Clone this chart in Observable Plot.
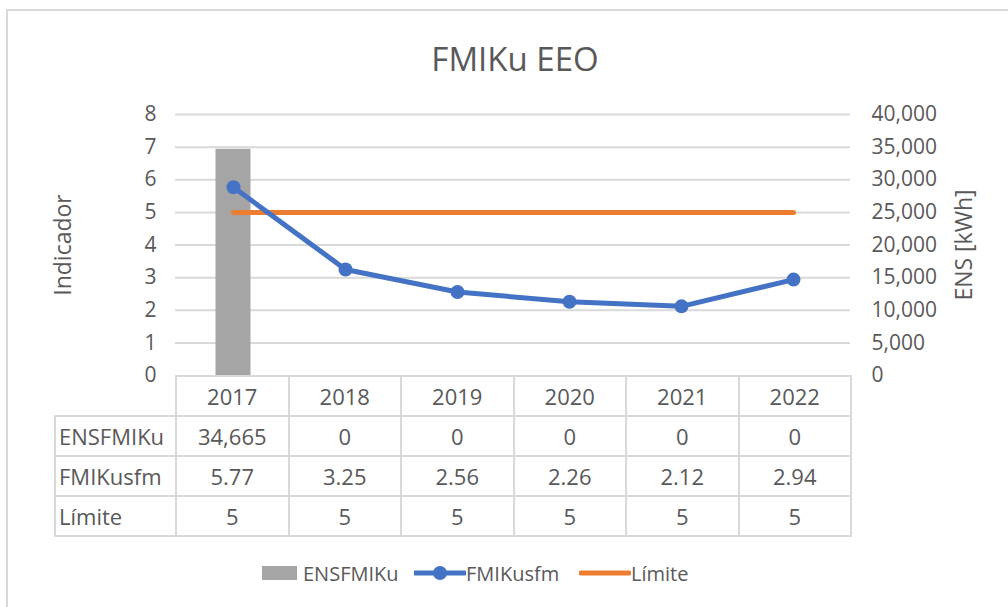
<!DOCTYPE html>
<html>
<head>
<meta charset="utf-8">
<script src="https://cdn.jsdelivr.net/npm/d3@7"></script>
<script src="https://cdn.jsdelivr.net/npm/@observablehq/plot@0.6"></script>
<style>
  html, body { margin: 0; padding: 0; background: #fff; overflow: hidden; }
  body { width: 1008px; height: 607px; font-family: "Open Sans", sans-serif; color: #595959; }
  #wrap { position: relative; width: 1008px; height: 607px; }
  #frame { position: absolute; left: 6px; top: 9px; width: 1100px; height: 700px; border: 2px solid #d9d9d9; box-sizing: border-box; }
  #chart { position: absolute; left: 0; top: 0; }
  #title { position: absolute; left: 0; width: 1030px; top: 36px; text-align: center; font-size: 33px; color: #595959; }
  .ylab { position: absolute; font-size: 23px; color: #595959; white-space: nowrap; transform-origin: center; }
  #tbl { position: absolute; left: 54px; top: 375px; border-collapse: collapse; table-layout: fixed; font-size: 22px; color: #595959; }
  #tbl td { border: 2px solid #d9d9d9; text-align: center; padding: 0; height: 38px; }
  #tbl td.lab { text-align: left; padding-left: 3px; }
  #tbl td.corner { border-top: none; border-left: none; }
  #legend { position: absolute; top: 558px; left: 0; width: 1008px; height: 30px; font-size: 20px; color: #595959; }
  .li { position: absolute; top: 0; display: flex; align-items: center; height: 30px; }
</style>
</head>
<body>
<div id="wrap">
  <div id="frame"></div>
  <div id="chart"></div>
  <div id="title">FMIKu EEO</div>
  <div class="ylab" id="ylabL">Indicador</div>
  <div class="ylab" id="ylabR">ENS [kWh]</div>
  <table id="tbl"></table>
  <div id="legend"></div>
</div>
<script>
// ---- data ----
const years = ["2017", "2018", "2019", "2020", "2021", "2022"];
const ensValues = [34665, 0, 0, 0, 0, 0];            // ENSFMIKu [kWh]
const fmikuValues = [5.77, 3.25, 2.56, 2.26, 2.12, 2.94]; // FMIKusfm
const limiteValues = [5, 5, 5, 5, 5, 5];              // Límite
const leftTicks = [0, 1, 2, 3, 4, 5, 6, 7, 8];
const rightTicks = [0, 5000, 10000, 15000, 20000, 25000, 30000, 35000, 40000];
const seriesNames = ["ENSFMIKu", "FMIKusfm", "Límite"];
const colors = {bar: "#a5a5a5", line: "#4472c4", limit: "#ed7d31"};

const ensPerUnit = rightTicks[rightTicks.length - 1] / leftTicks[leftTicks.length - 1];
const fmtInt = d3.format(",");

const rows = years.map((y, i) => ({year: y, ens: ensValues[i], fmiku: fmikuValues[i], limite: limiteValues[i]}));

const W = 1008, H = 607;
const plot = Plot.plot({
  width: W,
  height: H,
  marginLeft: 175,
  marginRight: 158,
  marginTop: 114,
  marginBottom: 232,
  style: {fontFamily: "Open Sans, sans-serif", fontSize: "20px", color: "#595959", background: "transparent"},
  x: {type: "band", domain: years, padding: 0, axis: null},
  y: {domain: [0, 8], axis: null},
  marks: [
    Plot.ruleY(leftTicks.filter(d => d > 0), {stroke: "#d9d9d9", strokeWidth: 2}),
    Plot.barY(rows, {x: "year", y: d => d.ens / ensPerUnit, fill: colors.bar, insetLeft: 38.5, insetRight: 38.5}),
    Plot.line(rows, {x: "year", y: "limite", stroke: colors.limit, strokeWidth: 5}),
    Plot.line(rows, {x: "year", y: "fmiku", stroke: colors.line, strokeWidth: 5, curve: "linear", strokeLinejoin: "round"}),
    Plot.dot(rows, {x: "year", y: "fmiku", r: 7, fill: colors.line}),
    Plot.axisY({ticks: leftTicks, tickSize: 0, tickPadding: 19, fontSize: 21, anchor: "left", label: null}),
    Plot.axisY({ticks: leftTicks, tickSize: 0, tickPadding: 21, fontSize: 21, anchor: "right", label: null,
      tickFormat: d => fmtInt(rightTicks[leftTicks.indexOf(d)]), textAnchor: "start"})
  ]
});
document.getElementById("chart").appendChild(plot);

// axis titles
const yl = document.getElementById("ylabL");
yl.style.left = (62 - 55) + "px"; yl.style.top = (245 - 16) + "px";
yl.style.width = "110px"; yl.style.textAlign = "center"; yl.style.transform = "rotate(-90deg)";
const yr = document.getElementById("ylabR");
yr.style.left = (963 - 60) + "px"; yr.style.top = (245 - 16) + "px";
yr.style.width = "120px"; yr.style.textAlign = "center"; yr.style.transform = "rotate(-90deg)";

// data table
const tbl = document.getElementById("tbl");
const colW = (W - 158 - 175) / years.length;
let html = `<colgroup><col style="width:121px">` + years.map(() => `<col style="width:${colW}px">`).join("") + `</colgroup>`;
html += `<tr><td class="corner"></td>` + years.map(y => `<td>${y}</td>`).join("") + `</tr>`;
html += `<tr><td class="lab">${seriesNames[0]}</td>` + ensValues.map(v => `<td>${fmtInt(v)}</td>`).join("") + `</tr>`;
html += `<tr><td class="lab">${seriesNames[1]}</td>` + fmikuValues.map(v => `<td>${v.toFixed(2)}</td>`).join("") + `</tr>`;
html += `<tr><td class="lab">${seriesNames[2]}</td>` + limiteValues.map(v => `<td>${v}</td>`).join("") + `</tr>`;
tbl.innerHTML = html;
tbl.style.width = (121 + colW * years.length) + "px";

// legend
const leg = document.getElementById("legend");
leg.innerHTML = `
  <div class="li" style="left:262px"><svg width="36" height="30"><rect x="0" y="8" width="35" height="14" fill="${colors.bar}"/></svg><span style="margin-left:5px">${seriesNames[0]}</span></div>
  <div class="li" style="left:414px"><svg width="52" height="30"><line x1="1" x2="51" y1="15" y2="15" stroke="${colors.line}" stroke-width="5" stroke-linecap="round"/><circle cx="26" cy="15" r="7" fill="${colors.line}"/></svg><span>${seriesNames[1]}</span></div>
  <div class="li" style="left:579px"><svg width="52" height="30"><line x1="2" x2="50" y1="15" y2="15" stroke="${colors.limit}" stroke-width="5" stroke-linecap="round"/></svg><span>${seriesNames[2]}</span></div>`;
</script>
</body>
</html>
